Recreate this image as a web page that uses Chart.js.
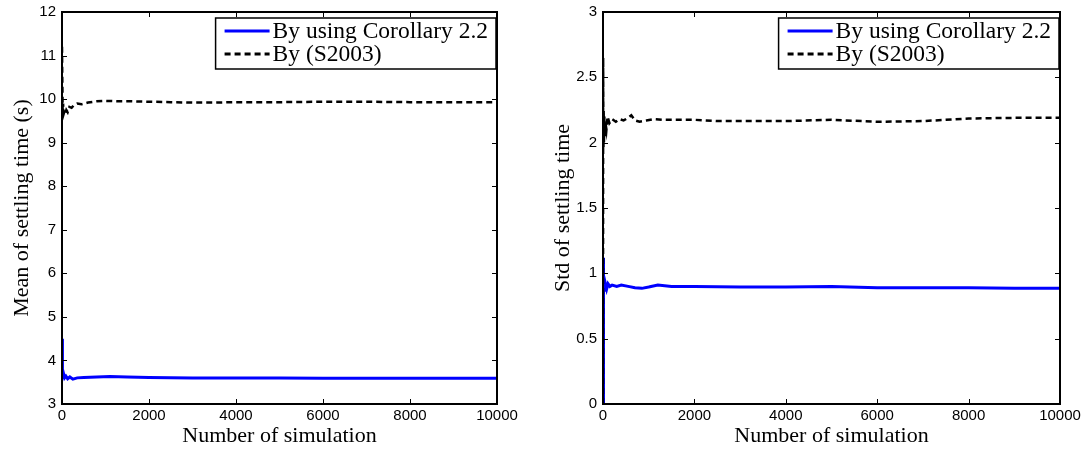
<!DOCTYPE html>
<html>
<head>
<meta charset="utf-8">
<script src="https://cdn.jsdelivr.net/npm/chart.js@4"></script>
<style>
    html, body { margin: 0; padding: 0; background: #fff; }
    .box { position: absolute; top: 0; width: 543px; height: 449px; }
</style>
</head>
<body>
<div class="box" style="left:0"><canvas id="meanChart"></canvas></div>
<div class="box" style="left:543px"><canvas id="stdChart"></canvas></div>
<script>
const legendLabels = ['By using Corollary 2.2', 'By (S2003)'];

// mean of settling time
const meanCorX = [0, 5, 10, 15, 25, 40, 60, 90, 130, 180, 250, 350, 500, 800, 1100, 1500, 2000, 2500, 3000, 4000, 5000, 6000, 7000, 8000, 9000, 10000];
const meanCorY = [4.5, 4.1, 3.7, 3.75, 3.6, 3.68, 3.6, 3.64, 3.58, 3.62, 3.57, 3.6, 3.61, 3.62, 3.63, 3.62, 3.61, 3.6, 3.595, 3.595, 3.595, 3.59, 3.59, 3.59, 3.59, 3.59];
const meanS2003X = [0, 5, 10, 15, 25, 35, 50, 70, 100, 130, 170, 220, 280, 350, 450, 600, 800, 1000, 1300, 1600, 2000, 2500, 3000, 3500, 4000, 5000, 6000, 7000, 8000, 9000, 10000];
const meanS2003Y = [11.2, 10.6, 10.2, 9.6, 9.9, 9.65, 9.7, 9.65, 9.75, 9.7, 9.82, 9.8, 9.87, 9.9, 9.88, 9.92, 9.95, 9.96, 9.95, 9.95, 9.94, 9.93, 9.92, 9.92, 9.93, 9.93, 9.94, 9.94, 9.93, 9.93, 9.93];

// std of settling time
const stdCorX = [0, 3, 6, 10, 15, 20, 30, 45, 60, 80, 110, 150, 200, 300, 400, 550, 700, 850, 1000, 1200, 1500, 2000, 3000, 4000, 5000, 6000, 7000, 8000, 9000, 10000];
const stdCorY = [0, 1.12, 0.95, 0.82, 0.95, 0.86, 0.92, 0.87, 0.91, 0.88, 0.92, 0.9, 0.91, 0.9, 0.91, 0.9, 0.89, 0.885, 0.895, 0.91, 0.9, 0.9, 0.895, 0.895, 0.9, 0.89, 0.89, 0.89, 0.885, 0.885];
const stdS2003X = [0, 3, 6, 10, 15, 20, 30, 40, 55, 75, 100, 140, 200, 280, 360, 450, 550, 620, 700, 800, 950, 1100, 1300, 1600, 2000, 2500, 3000, 4000, 5000, 6000, 7000, 8000, 9000, 10000];
const stdS2003Y = [0, 2.65, 2.3, 1.95, 2.25, 2.0, 2.2, 2.05, 2.15, 2.1, 2.2, 2.15, 2.18, 2.16, 2.18, 2.17, 2.19, 2.21, 2.17, 2.16, 2.17, 2.18, 2.175, 2.175, 2.175, 2.165, 2.165, 2.165, 2.175, 2.16, 2.165, 2.185, 2.19, 2.19];

const xTicks = [0, 2000, 4000, 6000, 8000, 10000];

const tickFont = { family: '"Liberation Sans", Arial, sans-serif', size: 15 };
const titleFont = { family: '"Liberation Serif", "Times New Roman", serif', size: 22, lineHeight: 1.2 };

function toPoints(xs, ys) {
    return xs.map((x, i) => ({ x: x, y: ys[i] }));
}

// matlab style box + inward ticks + boxed legend
const matlabFrame = {
    id: 'matlabFrame',
    afterDatasetsDraw(chart) {
        const ctx = chart.ctx;
        const area = chart.chartArea;
        const xs = chart.scales.x;
        const ys = chart.scales.y;
        ctx.save();
        ctx.strokeStyle = '#000';
        ctx.lineWidth = 1;
        ctx.beginPath();
        xs.ticks.forEach(t => {
            const px = Math.round(xs.getPixelForValue(t.value)) + 0.5;
            ctx.moveTo(px, area.bottom); ctx.lineTo(px, area.bottom - 5);
            ctx.moveTo(px, area.top); ctx.lineTo(px, area.top + 5);
        });
        ys.ticks.forEach(t => {
            const py = Math.round(ys.getPixelForValue(t.value)) + 0.5;
            ctx.moveTo(area.left, py); ctx.lineTo(area.left + 5, py);
            ctx.moveTo(area.right, py); ctx.lineTo(area.right - 5, py);
        });
        ctx.stroke();
        ctx.lineWidth = 2;
        ctx.strokeRect(area.left, area.top, area.right - area.left, area.bottom - area.top);

        // legend
        ctx.font = '23.5px "Liberation Serif", "Times New Roman", serif';
        const sets = chart.data.datasets;
        let textW = 0;
        sets.forEach(d => { textW = Math.max(textW, ctx.measureText(d.label).width); });
        const lineLen = 45, padL = 9, gap = 3, padR = 8, rowH = 23;
        const w = padL + lineLen + gap + textW + padR;
        const h = 51;
        const bx = area.right - 1 - w;
        const by = area.top + 6;
        ctx.fillStyle = '#fff';
        ctx.fillRect(bx, by, w, h);
        ctx.lineWidth = 1.5;
        ctx.strokeStyle = '#000';
        ctx.strokeRect(bx, by, w, h);
        sets.forEach((d, i) => {
            const cy = by + 13 + i * rowH;
            ctx.beginPath();
            ctx.strokeStyle = d.borderColor;
            ctx.lineWidth = 3;
            ctx.setLineDash(d.borderDash || []);
            ctx.moveTo(bx + padL, cy);
            ctx.lineTo(bx + padL + lineLen, cy);
            ctx.stroke();
            ctx.setLineDash([]);
            ctx.fillStyle = '#000';
            ctx.textBaseline = 'middle';
            ctx.fillText(d.label, bx + padL + lineLen + gap, cy + 1);
        });
        ctx.restore();
    }
};

function makeChart(id, corX, corY, sX, sY, yMin, yMax, yStep, yTitle, yWidth, yTitlePad, padRight) {
    const ctx = document.getElementById(id).getContext('2d');
    return new Chart(ctx, {
        type: 'line',
        data: {
            datasets: [{
                label: legendLabels[0],
                data: toPoints(corX, corY),
                borderColor: '#0000ff',
                borderWidth: 3,
                order: 1
            }, {
                label: legendLabels[1],
                data: toPoints(sX, sY),
                borderColor: '#000000',
                borderWidth: 2.5,
                borderDash: [6, 4],
                order: 0
            }]
        },
        options: {
            responsive: true,
            maintainAspectRatio: false,
            animation: false,
            elements: { point: { radius: 0 }, line: { tension: 0 } },
            layout: { padding: { top: 12, right: padRight, left: 0, bottom: 0 } },
            plugins: { legend: { display: false }, tooltip: { enabled: false } },
            scales: {
                x: {
                    type: 'linear',
                    min: 0,
                    max: 10000,
                    afterBuildTicks: (scale) => { scale.ticks = xTicks.map(v => ({ value: v })); },
                    afterFit: (scale) => {
                        scale.height = 45;
                        scale.paddingLeft = 0;
                        scale.paddingRight = 0;
                    },
                    grid: { display: false, drawTicks: false },
                    border: { display: false },
                    ticks: { font: tickFont, color: '#000', padding: 3, autoSkip: false, maxRotation: 0,
                        callback: (v) => String(v) },
                    title: { display: true, text: 'Number of simulation', font: titleFont, color: '#000', padding: 0 }
                },
                y: {
                    type: 'linear',
                    min: yMin,
                    max: yMax,
                    afterFit: (scale) => {
                        scale.width = yWidth;
                        scale.paddingTop = 0;
                        scale.paddingBottom = 0;
                    },
                    grid: { display: false, drawTicks: false },
                    border: { display: false },
                    ticks: { font: tickFont, color: '#000', padding: 6, stepSize: yStep,
                        callback: (v) => String(v) },
                    title: { display: true, text: yTitle, font: titleFont, color: '#000', padding: { top: yTitlePad, bottom: 0 } }
                }
            }
        },
        plugins: [matlabFrame]
    });
}

makeChart('meanChart', meanCorX, meanCorY, meanS2003X, meanS2003Y, 3, 12, 1, 'Mean of settling time (s)', 62, 9, 46);
makeChart('stdChart', stdCorX, stdCorY, stdS2003X, stdS2003Y, 0, 3, 0.5, 'Std of settling time', 60, 7, 26);
</script>
</body>
</html>
